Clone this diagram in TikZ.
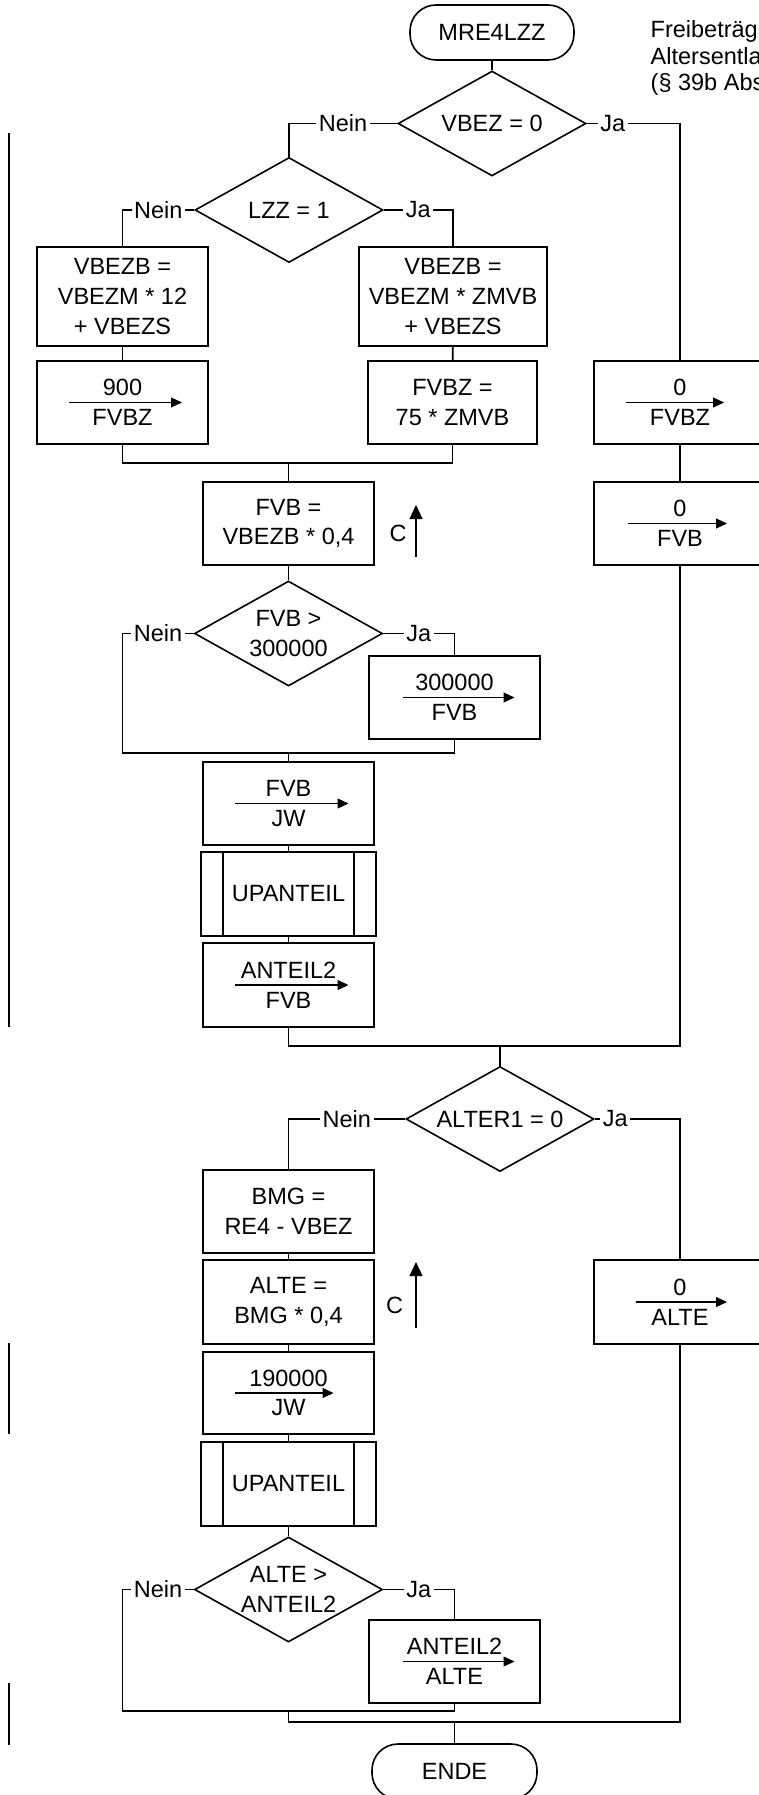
\documentclass[tikz,border=0pt]{standalone}
\usepackage{fontspec}
\setmainfont{Liberation Sans}
\usetikzlibrary{shapes.geometric,arrows.meta}
\begin{document}
\begin{tikzpicture}[x=1pt,y=-1pt,
  font=\fontsize{23.5}{29.7}\selectfont,
  every node/.style={inner sep=0pt},
  box/.style={draw, line width=1.6pt, rectangle, minimum width=171pt, minimum height=83pt, align=center},
  dec/.style={draw, line width=1.6pt, diamond, aspect=1.79, minimum width=188pt, minimum height=105pt, align=center},
  term/.style={draw, line width=1.6pt, rectangle, rounded corners=26pt, minimum width=164pt, minimum height=55pt},
  subr/.style={box, minimum width=175pt, minimum height=84pt},
  conn/.style={line width=1.6pt},
  lbl/.style={fill=white, inner xsep=2.5pt, inner ysep=1pt},
  asg/.style={line width=1.1pt, -{Triangle[length=11pt,width=10pt]}},
  carr/.style={line width=1.2pt, -{Triangle[length=14pt,width=13pt]}},
  mbar/.style={line width=1.4pt}
]
\useasboundingbox (0,0) rectangle (759,1795);
\clip (0,0) rectangle (759,1795);

% heading (cut at the right edge)
\node[anchor=base west] (h1) at (650.5,38) {Freibeträg};
\node[anchor=base west] (h2) at (650.5,64.3) {Altersentla};
\node[anchor=base west] (h3) at (650.5,90.6) {(§ 39b Abs};

% nodes
\node[term] (start) at (492,32.5) {MRE4LZZ};
\node[dec] (d1) at (492,123.5) {VBEZ = 0};
\node[dec] (d2) at (289,210) {LZZ = 1};
\node[box, minimum height=99pt] (b1) at (122.5,296.5) {VBEZB =\\VBEZM * 12\\+ VBEZS};
\node[box, minimum width=188pt, minimum height=99pt] (b2) at (453,296.5) {VBEZB =\\VBEZM * ZMVB\\+ VBEZS};
\node[box] (b3) at (122.5,402.5) {900\\FVBZ};
\node[box, minimum width=169pt] (b4) at (452.5,402.5) {FVBZ =\\75 * ZMVB};
\node[box, minimum width=172pt] (b5) at (680,402.5) {0\\FVBZ};
\node[box] (b6) at (288.5,523.5) {FVB =\\VBEZB * 0,4};
\node[box, minimum width=172pt] (b7) at (680,523.5) {0\\FVB};
\node[dec] (d3) at (288.5,633.5) {FVB >\\300000};
\node[box] (b8) at (454.5,697.5) {300000\\FVB};
\node[box] (b9) at (288.5,803.5) {FVB\\JW};
\node[subr] (p1) at (288.5,894) {UPANTEIL};
\node[box, minimum height=84pt] (b10) at (288.5,985) {ANTEIL2\\FVB};
\node[dec] (d4) at (500,1119) {ALTER1 = 0};
\node[box] (b11) at (288.5,1211.5) {BMG =\\RE4 - VBEZ};
\node[box, minimum height=84pt] (b12) at (288.5,1302) {ALTE =\\BMG * 0,4};
\node[box, minimum width=172pt, minimum height=84pt] (b13) at (680,1302) {0\\ALTE};
\node[box, minimum height=82pt] (b14) at (288.5,1393) {190000\\JW};
\node[subr] (p2) at (288.5,1484) {UPANTEIL};
\node[dec] (d5) at (288.5,1589.5) {ALTE >\\ANTEIL2};
\node[box] (b15) at (454.5,1661.5) {ANTEIL2\\ALTE};
\node[term, minimum width=165pt] (end) at (454.5,1771.5) {ENDE};

% subroutine side bars
\draw[conn] ([xshift=23pt]p1.north west) -- ([xshift=23pt]p1.south west);
\draw[conn] ([xshift=-23pt]p1.north east) -- ([xshift=-23pt]p1.south east);
\draw[conn] ([xshift=23pt]p2.north west) -- ([xshift=23pt]p2.south west);
\draw[conn] ([xshift=-23pt]p2.north east) -- ([xshift=-23pt]p2.south east);

% assignment arrows
\draw[asg] ([xshift=-53.5pt]b3.center) -- ([xshift=59.5pt]b3.center);
\draw[asg] ([xshift=-54pt]b5.center) -- ([xshift=44pt]b5.center);
\draw[asg] ([xshift=-52pt]b7.center) -- ([xshift=47pt]b7.center);
\draw[asg] ([xshift=-52pt]b8.center) -- ([xshift=60pt]b8.center);
\draw[asg] ([xshift=-54pt]b9.center) -- ([xshift=60pt]b9.center);
\draw[asg] ([xshift=-54pt]b10.center) -- ([xshift=60pt]b10.center);
\draw[asg] ([xshift=-44pt]b13.center) -- ([xshift=47pt]b13.center);
\draw[asg] ([xshift=-54pt]b14.center) -- ([xshift=45pt]b14.center);
\draw[asg] ([xshift=-52pt]b15.center) -- ([xshift=60pt]b15.center);

% connectors
\draw[conn] (start) -- (d1);
\draw[conn] (d1.west) -- node[lbl]{Nein} (d1.west -| d2.north) -- (d2.north);
\draw[conn] (d1.east) -- node[lbl,pos=0.28]{Ja} (d1.east -| b5.north) -- (b5.north);
\draw[conn] (d2.west) -- node[lbl]{Nein} (d2.west -| b1.north) -- (b1.north);
\draw[conn] (d2.east) -- node[lbl]{Ja} (d2.east -| b2.north) -- (b2.north);
\draw[conn] (b1) -- (b3);
\draw[conn] (b2) -- (b4);
\draw[conn] (b5) -- (b7);

\coordinate (m1) at (288.5,463);
\draw[conn] (b3.south) -- (b3.south |- m1) -- (b4.south |- m1) -- (b4.south);
\draw[conn] (m1) -- (b6.north);
\draw[conn] (b6) -- (d3);

\coordinate (n3) at (122.5,753);
\coordinate (m2) at (288.5,753);
\draw[conn] (d3.west) -- node[lbl]{Nein} (d3.west -| n3) -- (n3) -- (n3 -| b8.south) -- (b8.south);
\draw[conn] (d3.east) -- node[lbl]{Ja} (d3.east -| b8.north) -- (b8.north);
\draw[conn] (m2) -- (b9.north);
\draw[conn] (b9) -- (p1);
\draw[conn] (p1) -- (b10);

\coordinate (m3) at (500,1046);
\draw[conn] (b10.south) -- (b10.south |- m3) -- (m3 -| b7.south) -- (b7.south);
\draw[conn] (m3) -- (d4.north);

\draw[conn] (d4.west) -- node[lbl]{Nein} (d4.west -| b11.north) -- (b11.north);
\draw[conn] (d4.east) -- node[lbl,pos=0.24]{Ja} (d4.east -| b13.north) -- (b13.north);
\draw[conn] (b11) -- (b12);
\draw[conn] (b12) -- (b14);
\draw[conn] (b14) -- (p2);
\draw[conn] (p2) -- (d5);

\coordinate (n5) at (122.5,1711);
\draw[conn] (d5.west) -- node[lbl]{Nein} (d5.west -| n5) -- (n5) -- (n5 -| b15.south) -- (b15.south);
\draw[conn] (d5.east) -- node[lbl]{Ja} (d5.east -| b15.north) -- (b15.north);
\coordinate (m5) at (454.5,1722);
\draw[conn] (n5 -| d5.south) -- (m5 -| d5.south) -- (m5 -| b13.south) -- (b13.south);
\draw[conn] (m5) -- (end.north);

% loop markers C
\coordinate (c1a) at (416,557);
\coordinate (c1b) at (416,505);
\draw[carr] (c1a) -- (c1b);
\node (c1) at (398,533) {C};
\coordinate (c2a) at (416,1328);
\coordinate (c2b) at (416,1262);
\draw[carr] (c2a) -- (c2b);
\node (c2) at (394.5,1305) {C};

% margin bars
\coordinate (v1a) at (9,133);  \coordinate (v1b) at (9,1027);
\coordinate (v2a) at (9,1343); \coordinate (v2b) at (9,1434);
\coordinate (v3a) at (9,1683); \coordinate (v3b) at (9,1745);
\draw[mbar] (v1a) -- (v1b);
\draw[mbar] (v2a) -- (v2b);
\draw[mbar] (v3a) -- (v3b);
\end{tikzpicture}
\end{document}
